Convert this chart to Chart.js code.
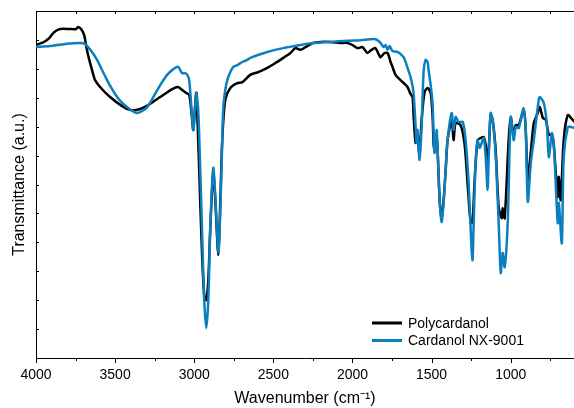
<!DOCTYPE html>
<html>
<head>
<meta charset="utf-8">
<script src="https://cdn.jsdelivr.net/npm/chart.js@4.4.1/dist/chart.umd.min.js"></script>
<style>
  html, body { margin: 0; padding: 0; background: #fff; }
  canvas { display: block; }
</style>
</head>
<body>
<canvas id="ftirChart" width="574" height="408"></canvas>
<script>
// FTIR spectra, wavenumber (cm-1) vs transmittance (arbitrary units)
const polyWn = [4000, 3962, 3937, 3911, 3886, 3848, 3785, 3747, 3734, 3715,
  3696, 3684, 3671, 3646, 3627, 3595, 3532, 3456, 3405, 3367,
  3329, 3291, 3215, 3139, 3101, 3076, 3051, 3032, 3019, 3006,
  2994, 2987, 2975, 2962, 2949, 2937, 2924, 2911, 2899, 2880,
  2867, 2848, 2835, 2823, 2804, 2772, 2728, 2696, 2646, 2595,
  2538, 2487, 2437, 2392, 2361, 2329, 2285, 2247, 2203, 2139,
  2076, 2032, 2000, 1968, 1937, 1905, 1880, 1855, 1835, 1823,
  1797, 1778, 1759, 1747, 1728, 1696, 1671, 1652, 1633, 1620,
  1614, 1601, 1589, 1582, 1576, 1563, 1544, 1525, 1506, 1494,
  1487, 1481, 1468, 1462, 1449, 1437, 1424, 1411, 1399, 1373,
  1361, 1348, 1316, 1291, 1272, 1253, 1241, 1228, 1209, 1190,
  1171, 1158, 1146, 1139, 1127, 1114, 1095, 1076, 1057, 1051,
  1038, 1013, 1000, 981, 968, 949, 918, 905, 892, 873,
  854, 829, 816, 797, 778, 759, 740, 728, 703, 696,
  684, 665, 639, 608, 595];
const polyT = [90.2, 90.8, 91.4, 92.5, 93.9, 94.8, 94.8, 94.8, 95.4, 94.8,
  93.1, 90.2, 87.3, 83.0, 80.1, 78.1, 75.2, 72.6, 71.5, 71.5,
  72.0, 72.9, 75.2, 77.5, 78.1, 77.2, 76.4, 75.8, 71.5, 65.7,
  72.9, 76.4, 62.8, 44.7, 28.2, 18.2, 16.7, 22.5, 36.9, 53.6,
  45.5, 29.7, 45.5, 62.8, 74.4, 77.8, 79.2, 79.5, 81.6, 82.4,
  83.6, 85.0, 86.5, 87.9, 89.3, 88.8, 89.9, 90.8, 91.1, 91.1,
  90.8, 90.8, 90.2, 89.3, 89.6, 87.9, 88.8, 89.3, 87.6, 86.7,
  87.9, 87.9, 85.3, 83.9, 81.6, 80.1, 79.0, 78.1, 76.1, 75.2,
  70.0, 62.0, 64.8, 60.8, 58.5, 68.6, 76.7, 77.8, 76.4, 70.0,
  61.4, 59.9, 64.3, 59.9, 45.5, 40.3, 45.5, 54.2, 62.8, 68.6,
  62.8, 67.7, 67.1, 61.4, 49.9, 38.9, 39.2, 51.3, 62.8, 63.4,
  63.7, 61.4, 57.1, 59.9, 70.0, 68.6, 59.9, 43.5, 40.3, 43.2,
  40.3, 62.8, 69.2, 64.3, 67.1, 67.1, 71.5, 65.7, 51.3, 59.4,
  67.7, 70.6, 72.3, 69.2, 68.6, 64.3, 64.3, 61.4, 46.4, 52.2,
  45.5, 62.8, 70.0, 68.6, 68.0];

const nxWn = [4000, 3911, 3816, 3722, 3690, 3671, 3646, 3614, 3582, 3551,
  3519, 3487, 3456, 3424, 3392, 3361, 3329, 3297, 3266, 3234,
  3203, 3171, 3139, 3120, 3101, 3089, 3076, 3057, 3044, 3032,
  3019, 3006, 3000, 2987, 2975, 2962, 2949, 2937, 2924, 2911,
  2899, 2880, 2867, 2848, 2835, 2823, 2816, 2804, 2791, 2772,
  2753, 2728, 2696, 2665, 2646, 2538, 2437, 2329, 2247, 2139,
  2032, 1949, 1867, 1842, 1823, 1804, 1791, 1778, 1766, 1747,
  1715, 1677, 1652, 1633, 1614, 1601, 1595, 1589, 1576, 1563,
  1551, 1538, 1525, 1519, 1506, 1494, 1487, 1481, 1468, 1462,
  1449, 1437, 1424, 1411, 1399, 1373, 1361, 1348, 1329, 1303,
  1285, 1266, 1247, 1241, 1234, 1222, 1209, 1196, 1171, 1158,
  1146, 1139, 1127, 1114, 1095, 1076, 1063, 1051, 1038, 1019,
  1000, 981, 968, 949, 918, 905, 892, 873, 854, 823,
  816, 791, 772, 759, 740, 728, 703, 696, 677, 665,
  639, 620, 595];
const nxT = [89.6, 89.9, 90.5, 90.8, 90.5, 89.6, 88.2, 85.9, 83.0, 80.1,
  77.5, 75.2, 73.5, 72.3, 71.2, 70.6, 71.2, 72.3, 74.6, 77.2,
  79.5, 81.6, 83.0, 83.6, 83.9, 83.0, 82.1, 82.1, 81.6, 80.1,
  72.9, 65.7, 68.6, 76.4, 71.5, 54.2, 34.0, 16.7, 8.6, 16.7,
  36.9, 54.8, 47.0, 30.5, 42.7, 62.8, 72.3, 77.2, 80.1, 82.4,
  83.9, 84.4, 85.3, 85.9, 86.5, 88.2, 89.3, 90.2, 90.8, 91.1,
  91.4, 91.6, 91.9, 91.6, 90.8, 89.6, 90.2, 88.8, 89.9, 88.5,
  88.2, 86.7, 83.6, 81.0, 76.4, 66.6, 62.0, 65.7, 57.1, 66.6,
  82.1, 85.9, 85.3, 83.0, 78.7, 73.5, 64.3, 59.1, 65.7, 59.9,
  45.5, 39.2, 44.7, 54.2, 62.8, 70.6, 65.7, 69.5, 68.0, 68.0,
  62.8, 50.4, 31.1, 28.2, 38.9, 56.2, 62.8, 60.5, 63.4, 57.9,
  48.4, 57.9, 70.6, 68.6, 58.5, 38.9, 24.5, 30.3, 26.2, 38.9,
  69.5, 62.8, 66.6, 66.3, 72.0, 65.7, 45.0, 56.2, 62.8, 74.4,
  75.2, 73.5, 67.7, 57.9, 64.8, 62.0, 38.9, 44.7, 33.1, 57.9,
  66.6, 66.6, 66.3];

const xTicks = [4000, 3500, 3000, 2500, 2000, 1500, 1000];
const seriesNames = ['Polycardanol', 'Cardanol NX-9001'];
const seriesColors = ['#000000', 'rgb(12,127,193)'];

const FONT = "Arial, 'Liberation Sans', sans-serif";

const toPoints = (wn, t) => wn.map((w, i) => ({ x: w, y: t[i] }));

// frame: top border plus tick marks (x outward at bottom, inward at top; y inward)
const frameTicks = {
  id: 'frameTicks',
  afterDatasetsDraw(chart) {
    const { ctx, chartArea: a, scales: { x, y } } = chart;
    ctx.save();
    ctx.strokeStyle = '#000';
    ctx.lineWidth = 1;
    ctx.beginPath();
    ctx.moveTo(a.left, a.top + 0.5);
    ctx.lineTo(a.right, a.top + 0.5);
    for (let v = 750; v <= 4000; v += 250) {
      const px = Math.round(x.getPixelForValue(v)) + 0.5;
      const len = v % 500 === 0 ? 5 : 3;
      ctx.moveTo(px, a.bottom);
      ctx.lineTo(px, a.bottom + len);
      ctx.moveTo(px, a.top);
      ctx.lineTo(px, a.top + 3);
    }
    for (let i = 1; i < 12; i++) {
      const py = Math.round(y.getPixelForValue(i * 100 / 12)) + 0.5;
      ctx.moveTo(a.left, py);
      ctx.lineTo(a.left + 3, py);
    }
    ctx.stroke();
    ctx.restore();
  }
};

// legend box in lower right corner of the plot
const cornerLegend = {
  id: 'cornerLegend',
  afterDraw(chart) {
    const { ctx, chartArea: a } = chart;
    const x0 = a.right - 202;
    const y0 = a.bottom - 35;
    ctx.save();
    ctx.font = '14px ' + FONT;
    ctx.textBaseline = 'middle';
    seriesNames.forEach((name, i) => {
      const yy = y0 + i * 17.5;
      ctx.strokeStyle = seriesColors[i];
      ctx.lineWidth = 3;
      ctx.beginPath();
      ctx.moveTo(x0, yy);
      ctx.lineTo(x0 + 30, yy);
      ctx.stroke();
      ctx.fillStyle = '#000';
      ctx.fillText(name, x0 + 36, yy + 1);
    });
    ctx.restore();
  }
};

const ctx = document.getElementById('ftirChart').getContext('2d');

new Chart(ctx, {
  type: 'line',
  data: {
    datasets: [
      {
        label: seriesNames[0],
        data: toPoints(polyWn, polyT),
        borderColor: seriesColors[0],
        borderWidth: 2.5,
        pointRadius: 0,
        tension: 0.25,
        order: 1
      },
      {
        label: seriesNames[1],
        data: toPoints(nxWn, nxT),
        borderColor: seriesColors[1],
        borderWidth: 2.5,
        pointRadius: 0,
        tension: 0.25,
        order: 0
      }
    ]
  },
  options: {
    responsive: false,
    animation: false,
    layout: { padding: { top: 11, right: 0, left: 0, bottom: 0 } },
    plugins: {
      legend: { display: false },
      tooltip: { enabled: false }
    },
    scales: {
      x: {
        type: 'linear',
        reverse: true,
        min: 600,
        max: 4000,
        afterBuildTicks: s => { s.ticks = xTicks.map(v => ({ value: v })); },
        afterFit: s => { s.height = 50; },
        grid: { display: false, drawTicks: false },
        border: { display: true, color: '#000', width: 1 },
        ticks: {
          color: '#000',
          font: { family: FONT, size: 14 },
          padding: 9,
          maxRotation: 0,
          autoSkip: false,
          callback: v => String(v)
        },
        title: {
          display: true,
          text: 'Wavenumber (cm⁻¹)',
          color: '#000',
          font: { family: FONT, size: 16 },
          padding: { top: 0, bottom: 0 }
        }
      },
      y: {
        min: 0,
        max: 100,
        afterFit: s => { s.width = 36; },
        grid: { display: false, drawTicks: false },
        border: { display: true, color: '#000', width: 1 },
        ticks: { display: false },
        title: {
          display: true,
          text: 'Transmittance (a.u.)',
          color: '#000',
          font: { family: FONT, size: 16 },
          padding: { top: 10, bottom: 0 }
        }
      }
    }
  },
  plugins: [frameTicks, cornerLegend]
});
</script>
</body>
</html>
